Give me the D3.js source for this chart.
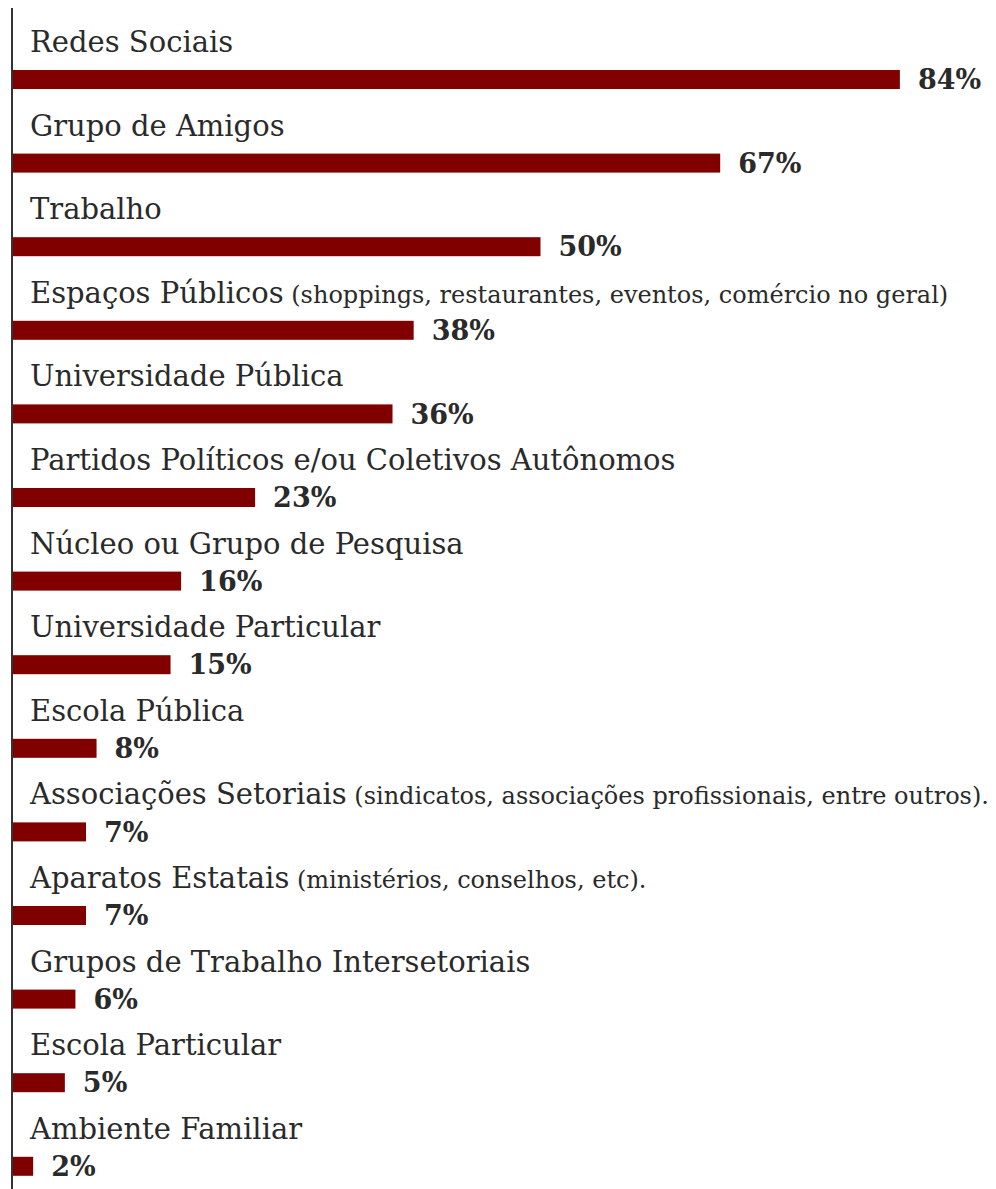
<!DOCTYPE html>
<html>
<head>
<meta charset="utf-8">
<script src="https://cdn.jsdelivr.net/npm/d3@7"></script>
<style>
  html, body { margin: 0; padding: 0; background: #fff; }
  svg { display: block; }
  .label { font-family: "DejaVu Serif", serif; fill: #2a2a2a; }
  .value { font-family: "DejaVu Serif", serif; font-weight: bold; fill: #2a2a2a; }
</style>
</head>
<body>
<svg id="chart" width="996" height="1189"></svg>
<script>
// Onde as pessoas ouviram falar / participam — percentuais por espaço
const categories = [
  "Redes Sociais",
  "Grupo de Amigos",
  "Trabalho",
  "Espaços Públicos",
  "Universidade Pública",
  "Partidos Políticos e/ou Coletivos Autônomos",
  "Núcleo ou Grupo de Pesquisa",
  "Universidade Particular",
  "Escola Pública",
  "Associações Setoriais",
  "Aparatos Estatais",
  "Grupos de Trabalho Intersetoriais",
  "Escola Particular",
  "Ambiente Familiar"
];
const notes = [
  "", "", "",
  "(shoppings, restaurantes, eventos, comércio no geral)",
  "", "", "", "", "",
  "(sindicatos, associações profissionais, entre outros).",
  "(ministérios, conselhos, etc).",
  "", "", ""
];
const values = [84, 67, 50, 38, 36, 23, 16, 15, 8, 7, 7, 6, 5, 2];

const W = 996, H = 1189;
const axisX = 12;
const svg = d3.select("#chart");

const x = d3.scaleLinear().domain([0, 100]).range([axisX, axisX + 1057]);
const y = d3.scaleBand()
  .domain(categories)
  .range([8, 8 + 83.6 * categories.length])
  .paddingInner(0)
  .paddingOuter(0);

const barH = 19;
const barOffset = 62;   // bar top inside each band
const rows = svg.append("g")
  .selectAll("g")
  .data(categories.map((c, i) => ({ cat: c, note: notes[i], v: values[i] })))
  .join("g")
  .attr("transform", d => `translate(0,${y(d.cat)})`);

rows.append("rect")
  .attr("x", x(0))
  .attr("y", barOffset)
  .attr("width", d => x(d.v) - x(0))
  .attr("height", barH)
  .attr("fill", "#800000");

const lbl = rows.append("text")
  .attr("class", "label")
  .attr("x", 30)
  .attr("y", barOffset - 18)
  .style("font-size", "29px");
lbl.append("tspan").text(d => d.cat);
lbl.filter(d => d.note).append("tspan")
  .style("font-size", "24px")
  .text(d => " " + d.note);

rows.append("text")
  .attr("class", "value")
  .attr("x", d => x(d.v) + 18)
  .attr("y", barOffset + barH / 2)
  .attr("dy", "0.36em")
  .style("font-size", "27px")
  .text(d => d.v + "%");

// vertical baseline
svg.append("line")
  .attr("x1", axisX).attr("x2", axisX)
  .attr("y1", 8).attr("y2", H)
  .attr("stroke", "#333")
  .attr("stroke-width", 2);
</script>
</body>
</html>
